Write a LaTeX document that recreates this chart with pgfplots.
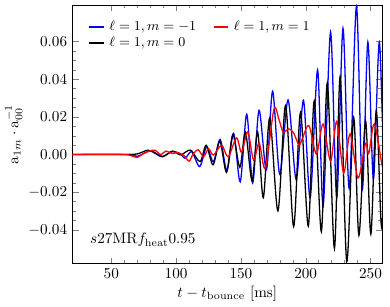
\documentclass[border=0pt]{standalone}
\usepackage{pgfplots}
\pgfplotsset{compat=1.18}
\begin{document}
\begin{tikzpicture}
\begin{axis}[
  scale only axis,
  width=204pt, height=170.5pt,
  xmin=20, xmax=259,
  ymin=-0.058, ymax=0.0795,
  xtick={50,100,150,200,250},
  minor x tick num=4,
  ytick={-0.04,-0.02,0,0.02,0.04,0.06},
  minor y tick num=3,
  scaled y ticks=false,
  yticklabel style={/pgf/number format/.cd, fixed, fixed zerofill, precision=2},
  tick align=inside,
  major tick length=4pt,
  minor tick length=2.4pt,
  xlabel={$t - t_{\mathrm{bounce}}$ [ms]},
  ylabel={$\mathrm{a}_{1m}\cdot \mathrm{a}_{00}^{-1}$},
  ylabel style={yshift=-3pt},
  xlabel style={yshift=2pt},
  legend style={draw=none, fill=none, at={(0.036,0.962)}, anchor=north west, font=\small,
    column sep=1pt, row sep=-1pt,
    /tikz/every even column/.append style={column sep=9pt}},
  legend columns=2,
  transpose legend,
  legend cell align=left,
  legend image code/.code={\draw[#1, line width=1.3pt] (0pt,0pt) -- (9.5pt,0pt);},
  every axis plot/.append style={line width=0.85pt},
]
\addplot[blue, smooth, tension=0.5] coordinates {
(20,0) (60,0) (65,0) (70,-0.001) (75,0.0005) (80.6,0.002) (86,0.0) (90,-0.001) (97,0.0015)
(103,0.0005) (107,-0.002) (112,0.0015) (118.2,-0.0064) (123.6,0.0040) (128.8,-0.0038)
(134.0,0.0080) (139.2,-0.0085) (144.4,0.0112) (149.5,-0.0145) (154.5,0.0214) (159.1,-0.0152)
(164.0,0.0235) (169.7,-0.0082) (174.5,0.0336) (180.0,-0.0105) (186.4,0.0290) (192.7,-0.0134)
(198.3,0.0288) (203.5,-0.0230) (209.2,0.0449) (213.5,-0.0275) (219.2,0.0650) (224.0,-0.0230)
(228.8,0.0670) (233.6,-0.0180) (239.2,0.0788) (243.7,-0.0186) (248.0,0.0597) (252.3,-0.0130)
(256.9,0.0597) (261,-0.032)
};
\addlegendentry{$\ell=1, m=-1$}
\addplot[black, smooth, tension=0.5] coordinates {
(20,0) (60,0) (70,0.0003) (78.3,0.0023) (84,0.0005) (89.6,-0.0012) (97.2,0.0018) (103.5,-0.0002)
(111.1,0.0023) (118.5,-0.0038) (123.2,0.0049) (128.5,-0.0055) (133.8,0.0070) (138.9,-0.0095)
(143.8,0.0105) (149.2,-0.0068) (153.5,0.0119) (158.6,-0.0140) (162.9,0.0120) (167.3,-0.0230)
(172.3,0.0195) (178.6,-0.0300) (184.5,0.0260) (190.7,-0.0383) (196.0,0.0223) (202.0,-0.0380)
(206.6,0.0284) (212.1,-0.0410) (216.7,0.0380) (222.2,-0.0500) (226.6,0.0414) (231.7,-0.0570)
(237.0,0.0197) (241.1,-0.0430) (246.2,0.0180) (250.3,-0.0423) (254.5,0.0232) (258.6,-0.0390)
(262,0.01)
};
\addlegendentry{$\ell=1, m=0$}
\addplot[red, smooth, tension=0.5] coordinates {
(20,0) (60,0) (69.5,-0.0016) (76,0.0010) (83.3,0.0023) (88,0.0) (92.2,0.0018) (97,0.0005)
(101,0.001) (106,-0.0005) (110,-0.0035) (113,0.0) (117,0.0025) (121.2,-0.0012) (125,0.0031)
(128.8,-0.0003) (135.1,0.0049) (140.2,-0.0012) (146.6,0.0088) (150.5,0.0012) (155.3,0.0120)
(159.8,-0.0030) (164.1,0.0062) (168.8,-0.0073) (175.5,0.0240) (179.3,0.0188) (182.6,0.0119)
(186.9,0.0136) (190.7,0.0115) (194.8,0.0050) (197.2,0.0080) (202.5,0.0153) (208.3,0.0002)
(213.4,0.0162) (219.2,-0.0035) (224,0.0176) (229.3,-0.0099) (234.3,0.0110) (240.4,-0.0125)
(246.2,0.0057) (248.7,0.0005) (253,0.0162) (258.9,-0.0055) (261,-0.009)
};
\addlegendentry{$\ell=1, m=1$}
\node[anchor=west] at (axis cs:29.5,-0.0455) {$s27\mathrm{MR}f_{\mathrm{heat}}0.95$};
\coordinate (BL) at (rel axis cs:0,0);
\coordinate (TR) at (rel axis cs:1,1);
\end{axis}
\path ([shift={(-42.6pt,-27.8pt)}]BL) rectangle ([shift={(5.2pt,3.2pt)}]TR);
\end{tikzpicture}
\end{document}
